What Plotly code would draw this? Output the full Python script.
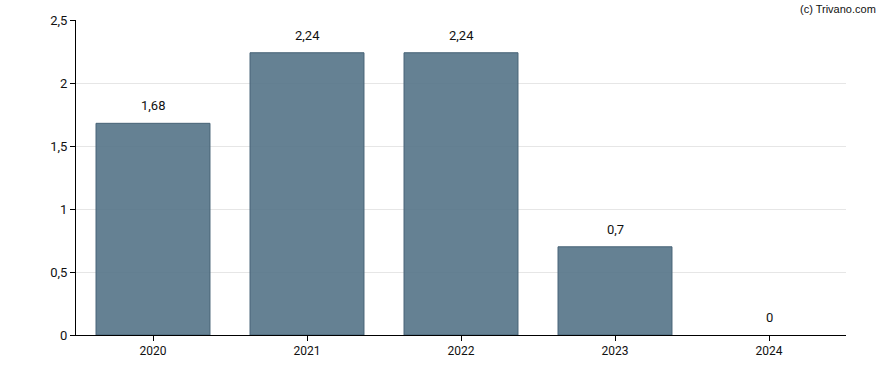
import plotly.graph_objects as go

years = ["2020", "2021", "2022", "2023", "2024"]
values = [1.68, 2.24, 2.24, 0.7, 0]
labels = ["1,68", "2,24", "2,24", "0,7", "0"]
y_ticks = [0, 0.5, 1, 1.5, 2, 2.5]
y_tick_text = ["0", "0,5", "1", "1,5", "2", "2,5"]

fig = go.Figure()
fig.add_trace(go.Bar(
    x=years, y=values, width=0.74,
    marker=dict(color="rgba(88,118,138,0.92)",
                line=dict(color="rgb(70,98,118)", width=[1 if v > 0 else 0 for v in values])),
    hoverinfo="skip",
))
for i, (v, t) in enumerate(zip(values, labels)):
    fig.add_annotation(x=i, y=v, text=t, showarrow=False, yanchor="bottom", yshift=8,
                       font=dict(family="Roboto, Arial, sans-serif", size=13, color="#111"))

fig.add_annotation(xref="paper", yref="paper", x=1.0, y=1.0, xanchor="right", yanchor="bottom",
                   xshift=32, yshift=3, text="(c) Trivano.com", showarrow=False,
                   font=dict(family="Liberation Sans, Arial, sans-serif", size=11, color="#111"))

fig.update_layout(
    width=888, height=370,
    margin=dict(l=76, r=42, t=20, b=35),
    plot_bgcolor="white", paper_bgcolor="white",
    showlegend=False,
    separators=",.",
    font=dict(family="Roboto, Arial, sans-serif", size=12, color="#111"),
)
fig.update_xaxes(
    type="category", range=[-0.5, 4.5], showline=True, linecolor="black", linewidth=1,
    ticks="outside", ticklen=5, tickcolor="black", showgrid=False,
    tickfont=dict(size=12), automargin=False,
)
fig.update_yaxes(
    range=[0, 2.5], tickvals=y_ticks, ticktext=y_tick_text,
    showline=True, linecolor="black", linewidth=1,
    ticks="outside", ticklen=5, tickcolor="black",
    showgrid=True, gridcolor="#e6e6e6", gridwidth=1, zeroline=False,
    tickfont=dict(size=13), automargin=False,
)
fig.write_html("out.html", config={"displayModeBar": False},
               post_script="document.body.style.margin='0';")
